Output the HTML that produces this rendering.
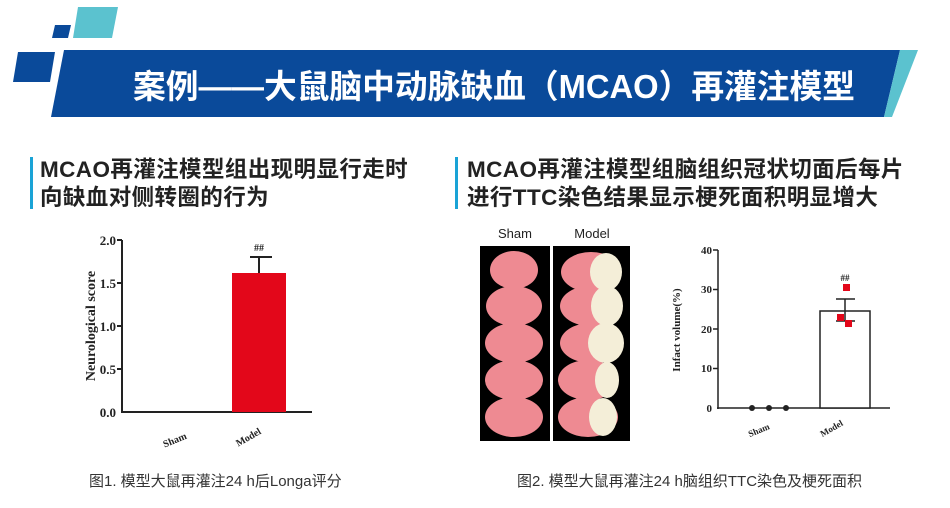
<!DOCTYPE html>
<html><head><meta charset="utf-8"><style>
body{margin:0;width:950px;height:508px;background:#fff;overflow:hidden;position:relative;font-family:"Liberation Sans","Noto Sans CJK SC",sans-serif}
.h{position:absolute;font-weight:bold;font-size:22.5px;color:#222;line-height:28px;letter-spacing:0.4px;white-space:nowrap}
.bar{position:absolute;width:3px;background:#1aa3d6}
.cap{position:absolute;font-size:15px;color:#333;white-space:nowrap}
</style></head><body>
<svg width="950" height="130" style="position:absolute;left:0;top:0">
<polygon points="78,7 118,7 112,38 73,38" fill="#5bc2cf"/>
<polygon points="55,25 71,25 68,38 52,38" fill="#0a4a9a"/>
<polygon points="18,52 55,52 50,82 13,82" fill="#0a4a9a"/>
<polygon points="64,50 900,50 884,117 51,117" fill="#0a4a9a"/>
<polygon points="900,50 918,50 892,117 884,117" fill="#5bc2cf"/>
<text x="133" y="98" font-family="Liberation Sans,Noto Sans CJK SC,sans-serif" font-weight="bold" font-size="33" fill="#fff" textLength="722" lengthAdjust="spacingAndGlyphs">案例——大鼠脑中动脉缺血（MCAO）再灌注模型</text>
</svg>
<div class="bar" style="left:30px;top:157px;height:52px"></div>
<div class="h" style="left:40px;top:156px">MCAO再灌注模型组出现明显行走时<br>向缺血对侧转圈的行为</div>
<div class="bar" style="left:455px;top:157px;height:52px"></div>
<div class="h" style="left:467px;top:156px">MCAO再灌注模型组脑组织冠状切面后每片<br>进行TTC染色结果显示梗死面积明显增大</div>
<svg width="950" height="508" style="position:absolute;left:0;top:0" font-family="Liberation Serif,serif" font-weight="bold">
<g stroke="#222" stroke-width="2">
<line x1="122" y1="240" x2="122" y2="413"/><line x1="121" y1="412" x2="312" y2="412"/>
<line x1="117" y1="240" x2="122" y2="240"/><line x1="117" y1="283" x2="122" y2="283"/><line x1="117" y1="326" x2="122" y2="326"/><line x1="117" y1="369" x2="122" y2="369"/>
</g>
<g font-size="13" text-anchor="end" fill="#222"><text x="116" y="245">2.0</text><text x="116" y="288">1.5</text><text x="116" y="331">1.0</text><text x="116" y="374">0.5</text><text x="116" y="417">0.0</text></g>
<rect x="232" y="273" width="54" height="139" fill="#e3071a"/>
<g stroke="#222" stroke-width="2"><line x1="259" y1="273" x2="259" y2="257"/><line x1="250" y1="257" x2="272" y2="257"/></g>
<text x="259" y="251" font-size="10" text-anchor="middle" fill="#222">##</text>
<text transform="translate(95,326) rotate(-90)" font-size="14" text-anchor="middle" fill="#222">Neurological score</text>
<text transform="translate(176,443) rotate(-22)" font-size="10" text-anchor="middle" fill="#222">Sham</text>
<text transform="translate(250,440) rotate(-30)" font-size="10" text-anchor="middle" fill="#222">Model</text>

<text x="515" y="238" font-family="Liberation Sans,sans-serif" font-weight="normal" font-size="13" text-anchor="middle" fill="#222">Sham</text>
<text x="592" y="238" font-family="Liberation Sans,sans-serif" font-weight="normal" font-size="13" text-anchor="middle" fill="#222">Model</text>
<rect x="480" y="246" width="70" height="195" fill="#000"/>
<rect x="553" y="246" width="77" height="195" fill="#000"/>
<g fill="#ee8a92">
<ellipse cx="514" cy="270" rx="24" ry="19"/><ellipse cx="514" cy="306" rx="28" ry="20"/><ellipse cx="514" cy="343" rx="29" ry="20"/><ellipse cx="514" cy="380" rx="29" ry="20"/><ellipse cx="514" cy="417" rx="29" ry="20"/>
<ellipse cx="591" cy="272" rx="30" ry="20"/><ellipse cx="590" cy="306" rx="30" ry="20"/><ellipse cx="591" cy="343" rx="31" ry="20"/><ellipse cx="588" cy="380" rx="30" ry="20"/><ellipse cx="588" cy="417" rx="30" ry="20"/>
</g>
<g fill="#f4eed8">
<ellipse cx="606" cy="272" rx="16" ry="19"/><ellipse cx="607" cy="306" rx="16" ry="20"/><ellipse cx="606" cy="343" rx="18" ry="20"/><ellipse cx="607" cy="380" rx="12" ry="18"/><ellipse cx="603" cy="417" rx="14" ry="19"/>
</g>
<g stroke="#222" stroke-width="1.5">
<line x1="718" y1="250" x2="718" y2="409"/><line x1="717" y1="408" x2="890" y2="408"/>
<line x1="713" y1="250" x2="718" y2="250"/><line x1="713" y1="289.5" x2="718" y2="289.5"/><line x1="713" y1="329" x2="718" y2="329"/><line x1="713" y1="368.5" x2="718" y2="368.5"/>
</g>
<g font-size="11" text-anchor="end" fill="#222"><text x="712" y="254">40</text><text x="712" y="293">30</text><text x="712" y="333">20</text><text x="712" y="372">10</text><text x="712" y="412">0</text></g>
<rect x="820" y="311" width="50" height="97" fill="#fff" stroke="#222" stroke-width="1.5"/>
<g stroke="#222" stroke-width="1.5"><line x1="845" y1="299" x2="845" y2="321"/><line x1="836" y1="299" x2="855" y2="299"/><line x1="836" y1="321" x2="855" y2="321"/></g>
<g fill="#e3071a"><rect x="843" y="284" width="7" height="7"/><rect x="837" y="314" width="7" height="7"/><rect x="845" y="320" width="7" height="7"/></g>
<text x="845" y="281" font-size="9" text-anchor="middle" fill="#222">##</text>
<g fill="#222"><circle cx="752" cy="408" r="3"/><circle cx="769" cy="408" r="3"/><circle cx="786" cy="408" r="3"/></g>
<text transform="translate(680,330) rotate(-90)" font-size="11" text-anchor="middle" fill="#222">Infact volume(%)</text>
<text transform="translate(760,433) rotate(-22)" font-size="9" text-anchor="middle" fill="#222">Sham</text>
<text transform="translate(833,431) rotate(-30)" font-size="9" text-anchor="middle" fill="#222">Model</text>
</svg>
<div class="cap" style="left:89px;top:470px">图1. 模型大鼠再灌注24 h后Longa评分</div>
<div class="cap" style="left:517px;top:470px">图2. 模型大鼠再灌注24 h脑组织TTC染色及梗死面积</div>
</body></html>
